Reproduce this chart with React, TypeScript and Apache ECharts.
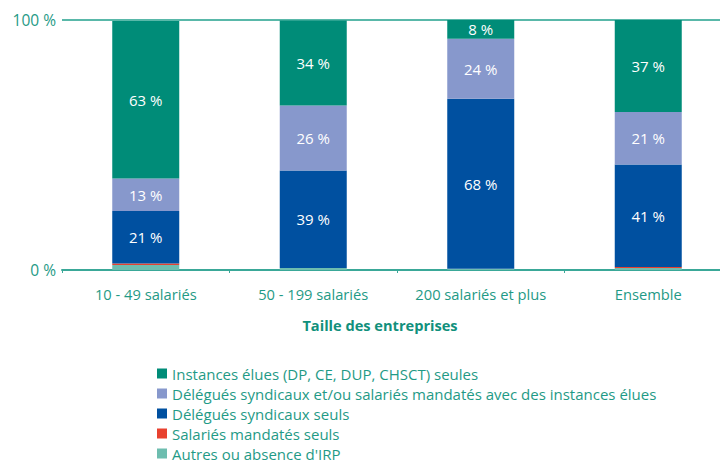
import React, { useEffect, useRef } from "react";
import * as echarts from "echarts";

const categories = ["10 - 49 salariés", "50 - 199 salariés", "200 salariés et plus", "Ensemble"];
const autres = [2, 0.8, 0.5, 0.8];
const mandates = [0.6, 0, 0, 0.4];
const delegSeuls = [21, 39, 68, 41];
const delegEtInst = [13, 26, 24, 21];
const instances = [63, 34, 8, 37];
const yTicks = [0, 100];
const xTitle = "Taille des entreprises";

const TEXT = "#1f9a86";
const FONT = "'Open Sans', 'Noto Sans', sans-serif";

export default function App() {
  const ref = useRef<HTMLDivElement>(null);
  useEffect(() => {
    if (!ref.current) return;
    const chart = echarts.init(ref.current, null, { renderer: "svg" });
    const label = {
      show: true,
      color: "#ffffff",
      fontSize: 15,
      fontFamily: FONT,
      formatter: (p: any) => `${Math.round(p.value)} %`,
    };
    const mk = (name: string, data: number[], color: string, showLabel: boolean) => ({
      name,
      type: "bar",
      stack: "total",
      data,
      barWidth: 67,
      itemStyle: { color },
      label: showLabel ? label : { show: false },
      emphasis: { disabled: true },
    });
    chart.setOption({
      animation: false,
      textStyle: { fontFamily: FONT },
      grid: { left: 62, top: 20, right: -12, bottom: 190, containLabel: false, outerBoundsMode: "none" },
      graphic: [
        {
          type: "text",
          x: 380,
          y: 325,
          style: {
            text: xTitle,
            fill: "#11907c",
            font: `bold 14.6px ${FONT}`,
            align: "center",
            verticalAlign: "middle",
          },
        },
      ],
      xAxis: {
        type: "category",
        data: categories,
        axisLine: { lineStyle: { color: "#3aa898", width: 2 } },
        axisTick: { show: true, length: 3, lineStyle: { color: "#3aa898" } },
        axisLabel: { color: TEXT, fontSize: 14.7, margin: 16, fontFamily: FONT, interval: 0, hideOverlap: false },
      },
      yAxis: {
        type: "value",
        min: yTicks[0],
        max: yTicks[1],
        interval: 100,
        axisLine: { show: false },
        axisTick: { show: false },
        splitLine: { show: true, lineStyle: { color: "#22a08c", width: 1.5 } },
        axisLabel: { color: TEXT, fontSize: 15.5, margin: 6, fontFamily: FONT, formatter: "{value} %" },
      },
      legend: {
        orient: "vertical",
        left: 157,
        top: 366,
        height: 120,
        padding: 0,
        itemWidth: 10,
        itemHeight: 10,
        itemGap: 5,
        icon: "rect",
        textStyle: { color: TEXT, fontSize: 15, lineHeight: 14, fontFamily: FONT },
        data: [
          "Instances élues (DP, CE, DUP, CHSCT) seules",
          "Délégués syndicaux et/ou salariés mandatés avec des instances élues",
          "Délégués syndicaux seuls",
          "Salariés mandatés seuls",
          "Autres ou absence d'IRP",
        ],
      },
      series: [
        mk("Autres ou absence d'IRP", autres, "#6dbdaf", false),
        mk("Salariés mandatés seuls", mandates, "#e8412f", false),
        mk("Délégués syndicaux seuls", delegSeuls, "#0050a0", true),
        mk("Délégués syndicaux et/ou salariés mandatés avec des instances élues", delegEtInst, "#8798cc", true),
        mk("Instances élues (DP, CE, DUP, CHSCT) seules", instances, "#008c78", true),
      ],
    });
    return () => chart.dispose();
  }, []);
  return <div ref={ref} style={{ width: 720, height: 460, position: "absolute", left: 0, top: 0 }} />;
}
